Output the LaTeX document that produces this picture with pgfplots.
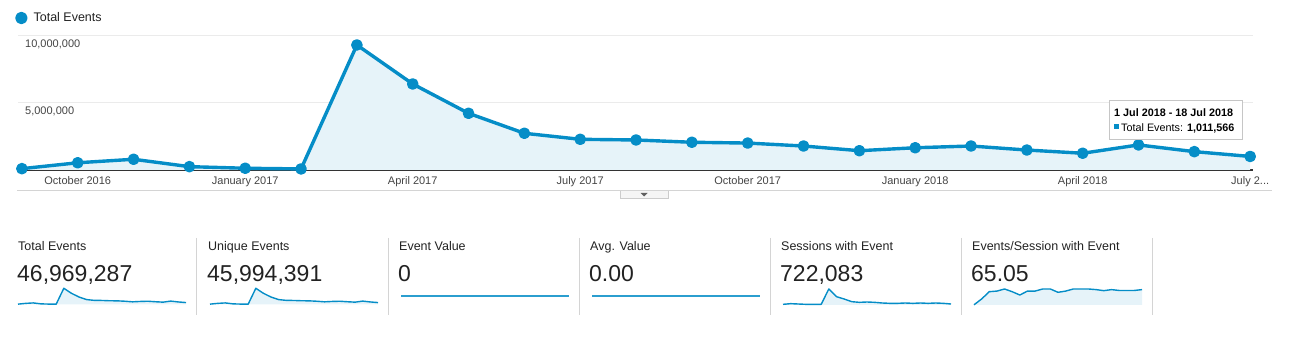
\documentclass[border=0pt]{standalone}
\usepackage{pgfplots}
\pgfplotsset{compat=1.18}
\usepackage{pgfplotstable}
\usepackage{fontspec}
\setmainfont{Liberation Sans}
\usetikzlibrary{shadows}
\definecolor{gablue}{HTML}{058DC7}
\definecolor{gafill}{HTML}{E6F3F9}
\definecolor{gridc}{HTML}{EBEBEB}
\definecolor{axisc}{HTML}{333333}
\definecolor{labc}{HTML}{444444}
\definecolor{sepc}{HTML}{D4D4D4}
\definecolor{txt}{HTML}{222222}

\pgfplotstableread{
i v
0 100000
1 540000
2 800000
3 250000
4 130000
5 80000
6 9330000
7 6420000
8 4230000
9 2740000
10 2290000
11 2240000
12 2070000
13 2010000
14 1790000
15 1440000
16 1660000
17 1790000
18 1490000
19 1250000
20 1870000
21 1370000
22 1011566
}\totalevents

\pgfplotstableread{
i v
0 98000
1 530000
2 785000
3 245000
4 127000
5 78000
6 9150000
7 6290000
8 4140000
9 2680000
10 2240000
11 2190000
12 2030000
13 1970000
14 1750000
15 1410000
16 1630000
17 1750000
18 1460000
19 1225000
20 1830000
21 1340000
22 990000
}\uniqueevents

\pgfplotstableread{
i v
0 7500
1 15000
2 11200
3 7500
4 7500
5 7500
6 179600
7 93500
8 67300
9 37400
10 29900
11 33700
12 29900
13 22400
14 18700
15 18700
16 22400
17 18700
18 22400
19 18700
20 22400
21 18700
22 11200
}\sessions

\pgfplotstableread{
i v
0 1
1 29
2 64
3 67
4 77
5 64
6 48
7 67
8 67
9 77
10 77
11 61
12 67
13 77
14 77
15 77
16 74
17 69
18 74
19 70
20 70
21 70
22 74
}\evpersession

\pgfplotstableread{
i v
0 0
22 0
}\zeroline

\pgfplotsset{
  spark/.style={
    hide axis, scale only axis, width=168bp, height=16bp,
    anchor=south west, xmin=0, xmax=22, ymin=0, clip=false
  },
  sparkline/.style={gablue, line width=1.4bp, line join=round},
  sparkfill/.style={fill=gafill, draw=none, forget plot},
}

\newcommand{\ttl}[1]{{\fontsize{12.5bp}{15bp}\selectfont\color{txt}#1}}
\newcommand{\val}[1]{{\fontsize{23bp}{27bp}\selectfont\color{txt}#1}}

\begin{document}
\begin{tikzpicture}
\path[use as bounding box] (0bp,0bp) rectangle (1291bp,363bp);

\begin{axis}[
  at={(18bp,193bp)}, anchor=south west,
  scale only axis, width=1235bp, height=134bp,
  xmin=-0.07, xmax=22.05, ymin=0, ymax=10000000,
  axis line style={draw=none},
  major tick length=0pt,
  scaled y ticks=false,
  xtick={1,4,7,10,13,16,19,22},
  xticklabels={October 2016,January 2017,April 2017,July 2017,October 2017,January 2018,April 2018,{July 2{.}{.}{.}}},
  ytick={5000000,10000000},
  yticklabels={{5,000,000},{10,000,000}},
  ymajorgrids, grid style={gridc, line width=1bp},
  extra y ticks={0}, extra y tick labels={},
  extra y tick style={grid style={axisc, line width=1.2bp}},
  xticklabel style={font=\fontsize{11bp}{13bp}\selectfont, text=labc, anchor=north, inner sep=0pt, yshift=-6.5bp},
  yticklabel style={font=\fontsize{11bp}{13bp}\selectfont, text=labc, anchor=north west, inner sep=0pt, xshift=7bp, yshift=-3.5bp},
  clip=false,
  legend style={at={(0,1)}, anchor=west, xshift=-3bp, yshift=18bp, draw=none, fill=none, inner sep=0pt,
    font=\fontsize{12.5bp}{15bp}\selectfont, text=txt,
    /tikz/every odd column/.style={column sep=4bp}},
  legend image code/.code={\fill[gablue] (4.5bp,0bp) circle (4.5bp);},
]
\addplot[fill=gafill, draw=none, forget plot] table[x=i,y=v]{\totalevents} \closedcycle;
\addplot[gablue, line width=3.4bp, line join=round, mark=*, mark size=4.1bp,
  mark options={fill=gablue, draw=none}] table[x=i,y=v]{\totalevents};
\addlegendentry{Total Events}
\end{axis}

% sparklines
\begin{axis}[spark, at={(18bp,58.7bp)}, ymax=9330000]
\addplot[sparkfill] table[x=i,y=v]{\totalevents} \closedcycle;
\addplot[sparkline] table[x=i,y=v]{\totalevents};
\end{axis}
\begin{axis}[spark, at={(210bp,58.7bp)}, ymax=9150000]
\addplot[sparkfill] table[x=i,y=v]{\uniqueevents} \closedcycle;
\addplot[sparkline] table[x=i,y=v]{\uniqueevents};
\end{axis}
\begin{axis}[spark, at={(401bp,59bp)}, ymin=-1, ymax=1]
\addplot[gablue!85, line width=2.2bp] table[x=i,y=v]{\zeroline};
\end{axis}
\begin{axis}[spark, at={(592bp,59bp)}, ymin=-1, ymax=1]
\addplot[gablue!85, line width=2.2bp] table[x=i,y=v]{\zeroline};
\end{axis}
\begin{axis}[spark, at={(783bp,58bp)}, ymax=179600]
\addplot[sparkfill] table[x=i,y=v]{\sessions} \closedcycle;
\addplot[sparkline] table[x=i,y=v]{\sessions};
\end{axis}
\begin{axis}[spark, at={(974bp,58bp)}, ymax=77]
\addplot[sparkfill] table[x=i,y=v]{\evpersession} \closedcycle;
\addplot[sparkline] table[x=i,y=v]{\evpersession};
\end{axis}

\begin{scope}[x=1bp,y=1bp]
% tooltip
\draw[fill=white, draw=gray!45, drop shadow={opacity=0.15, shadow xshift=1bp, shadow yshift=-1.5bp}] (1109,263) rectangle (1242,224);
\node[anchor=base west, inner sep=0pt, font=\fontsize{10.8bp}{13bp}\selectfont\bfseries] at (1114,247) {1 Jul 2018 - 18 Jul 2018};
\fill[gablue] (1114,234) rectangle (1119,239);
\node[anchor=base west, inner sep=0pt, font=\fontsize{10.8bp}{13bp}\selectfont] at (1121,232) {Total Events: \textbf{1,011,566}};

% bottom rule and tab
\draw[sepc, line width=1bp] (17,172) -- (1272,172);
\draw[fill=gray!8, draw=gray!40, line width=0.8bp] (620,172) -- (620,164.5) -- (668,164.5) -- (668,172);
\fill[gray!75!black] (640.5,170) -- (647.5,170) -- (644,166.5) -- cycle;

% separators
\foreach \xs in {196.5,388,579,770,961,1152}{
  \draw[sepc, line width=1bp] (\xs,125) -- (\xs,48);
}

% scorecard titles and values
\node[anchor=base west, inner sep=0pt] at (18,113) {\ttl{Total Events}};
\node[anchor=base west, inner sep=0pt] at (208,113) {\ttl{Unique Events}};
\node[anchor=base west, inner sep=0pt] at (399,113) {\ttl{Event Value}};
\node[anchor=base west, inner sep=0pt] at (590,113) {\ttl{Avg. Value}};
\node[anchor=base west, inner sep=0pt] at (781,113) {\ttl{Sessions with Event}};
\node[anchor=base west, inner sep=0pt] at (972,113) {\ttl{Events/Session with Event}};

\node[anchor=base west, inner sep=0pt] at (17,82) {\val{46,969,287}};
\node[anchor=base west, inner sep=0pt] at (207,82) {\val{45,994,391}};
\node[anchor=base west, inner sep=0pt] at (398,82) {\val{0}};
\node[anchor=base west, inner sep=0pt] at (589,82) {\val{0.00}};
\node[anchor=base west, inner sep=0pt] at (780,82) {\val{722,083}};
\node[anchor=base west, inner sep=0pt] at (971,82) {\val{65.05}};
\end{scope}

\end{tikzpicture}
\end{document}
